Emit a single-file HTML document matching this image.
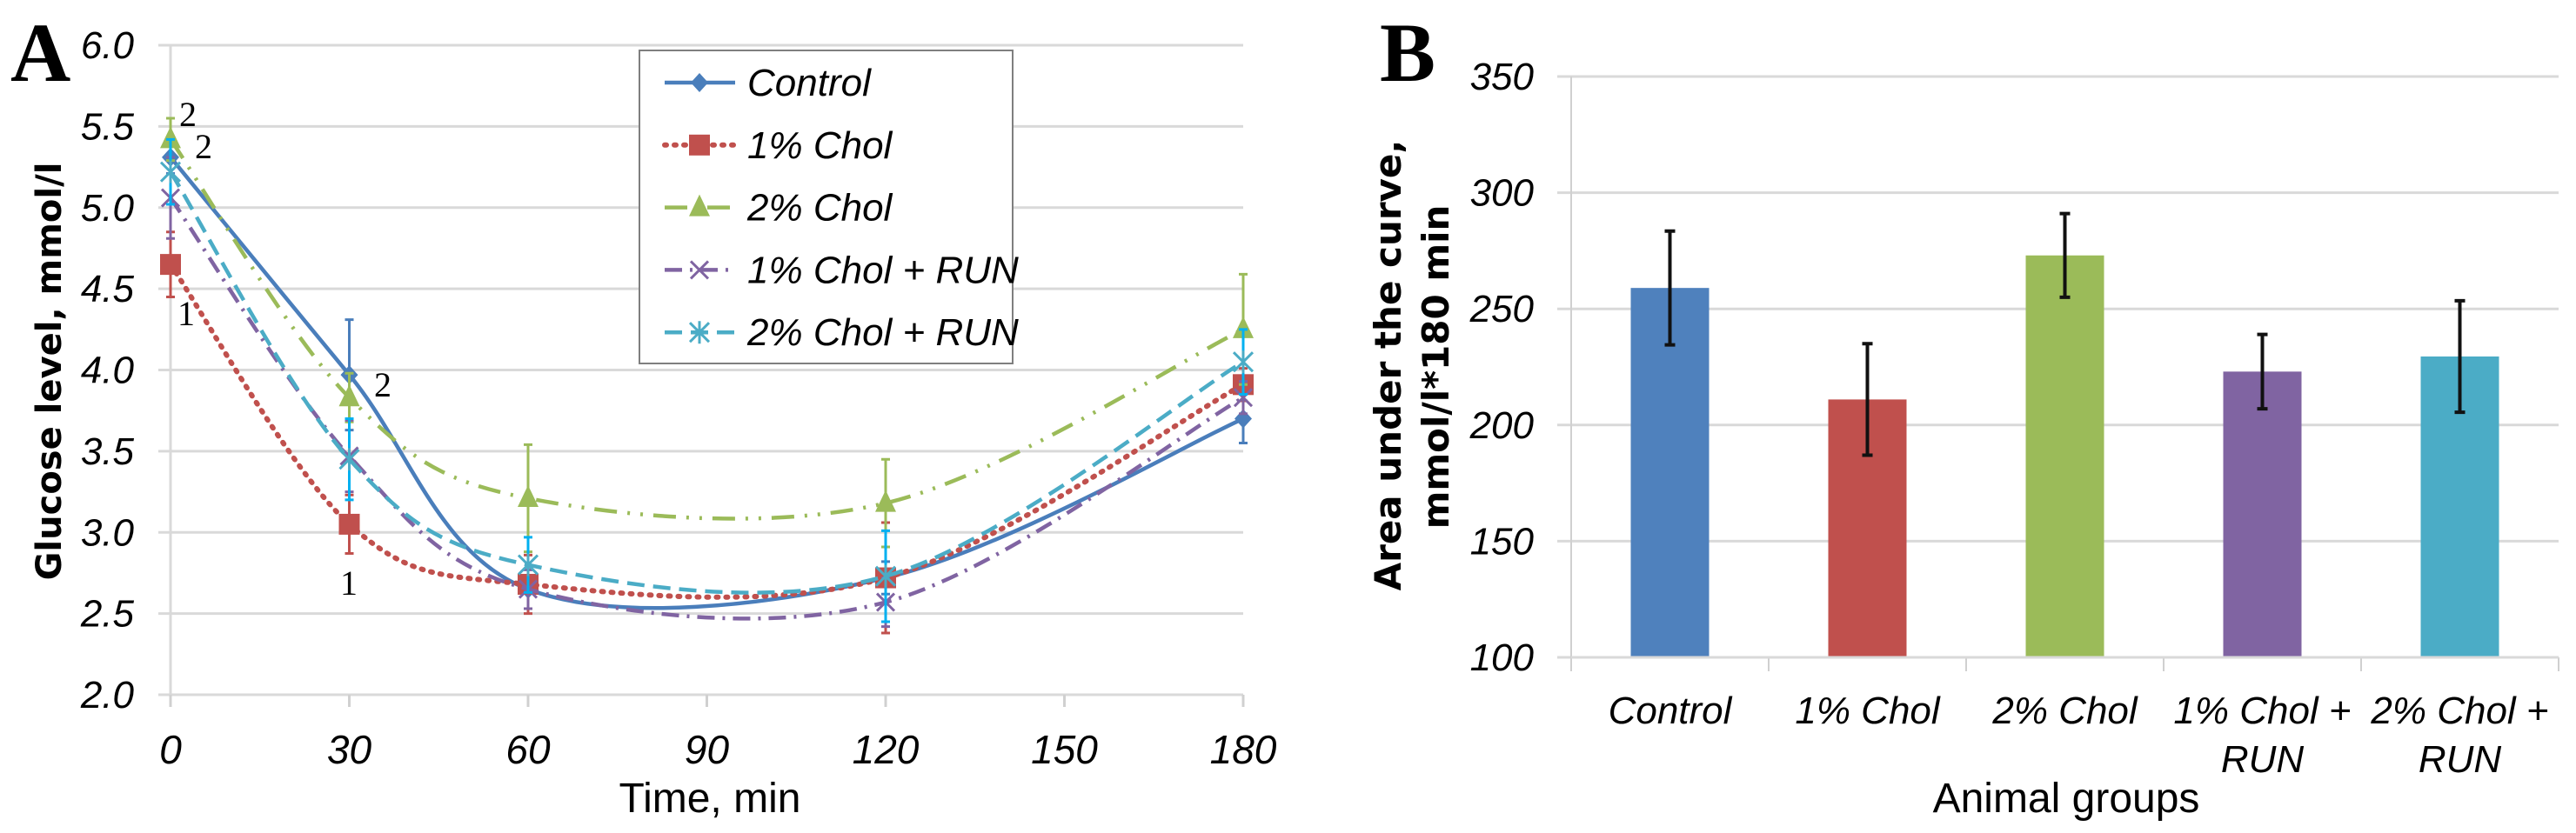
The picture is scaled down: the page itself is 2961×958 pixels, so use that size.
<!DOCTYPE html>
<html><head><meta charset="utf-8"><style>
html,body{margin:0;padding:0;background:#fff;}
svg{display:block;}
text{font-family:"Liberation Sans Narrow","Liberation Sans",sans-serif;}
text.serif{font-family:"Liberation Serif",serif;}
text.dv{font-family:"DejaVu Sans","Liberation Sans",sans-serif;}
text.ls{font-family:"Liberation Sans",sans-serif;}
</style></head><body>
<svg id="s" width="2961" height="958" viewBox="0 0 2961 958" xmlns="http://www.w3.org/2000/svg">
<g id="ga"></g>
<g id="gb"></g>
</svg>
<script>
// ---- Chart A data ----
const times = [0, 30, 60, 120, 180];
const xTicksA = [0, 30, 60, 90, 120, 150, 180];
const yTicksA = [2.0, 2.5, 3.0, 3.5, 4.0, 4.5, 5.0, 5.5, 6.0];
const seriesNames = ["Control", "1% Chol", "2% Chol", "1% Chol + RUN", "2% Chol + RUN"];
const controlVals = [5.31, 3.97, 2.65, 2.72, 3.70];
const controlErr = [0.1, 0.34, 0.12, 0.1, 0.15];
const chol1Vals = [4.65, 3.05, 2.68, 2.72, 3.91];
const chol1Err = [0.2, 0.18, 0.18, 0.34, 0.1];
const chol2Vals = [5.42, 3.83, 3.21, 3.18, 4.25];
const chol2Err = [0.13, 0.15, 0.33, 0.27, 0.34];
const chol1RunVals = [5.06, 3.47, 2.65, 2.57, 3.83];
const chol1RunErr = [0.25, 0.22, 0.12, 0.15, 0.1];
const chol2RunVals = [5.22, 3.45, 2.80, 2.73, 4.05];
const chol2RunErr = [0.2, 0.25, 0.17, 0.28, 0.2];
// ---- Chart B data ----
const groups = [["Control"], ["1% Chol"], ["2% Chol"], ["1% Chol +", "RUN"], ["2% Chol +", "RUN"]];
const aucVals = [259, 211, 273, 223, 229.5];
const aucErr = [24.5, 24, 18, 16, 24];
const yTicksB = [100, 150, 200, 250, 300, 350];

const NS = "http://www.w3.org/2000/svg";
function mk(parent, tag, attrs, txt){
  const e = document.createElementNS(NS, tag);
  for (const k in attrs) e.setAttribute(k, attrs[k]);
  if (txt !== undefined) e.textContent = txt;
  parent.appendChild(e);
  return e;
}
const ga = document.getElementById('ga');
const gb = document.getElementById('gb');

const xA = t => 196 + (t - 0) * (1429 - 196) / 180;
const yA = v => 799 - (v - 2) * (799 - 52) / 4;

yTicksA.forEach(v => {
  const l = mk(ga, 'line', {x1:182, x2:1429, y1:yA(v), y2:yA(v), stroke:'#d9d9d9', 'stroke-width':3});
  
  
  const t = mk(ga, 'text', {x:154, y:yA(v)+15, 'text-anchor':'end', 'font-size':44, 'font-style':'italic'}, v.toFixed(1));
  
  
});
let ax = mk(ga, 'line', {x1:196, x2:196, y1:52, y2:812, stroke:'#d9d9d9', 'stroke-width':3});


xTicksA.forEach(t => {
  const l = mk(ga, 'line', {x1:xA(t), x2:xA(t), y1:799, y2:813, stroke:'#d0d0d0', 'stroke-width':3});
  
  
  const tx = mk(ga, 'text', {x:xA(t), y:878, 'text-anchor':'middle', 'font-size':46, 'font-style':'italic'}, String(t));
  
  
});

function smoothPath(xs, ys){
  let d = `M${xs[0]},${ys[0]}`;
  const n = xs.length;
  for (let i = 0; i < n-1; i++){
    const x0 = xs[Math.max(i-1,0)], y0 = ys[Math.max(i-1,0)];
    const x1 = xs[i], y1 = ys[i], x2 = xs[i+1], y2 = ys[i+1];
    const x3 = xs[Math.min(i+2,n-1)], y3 = ys[Math.min(i+2,n-1)];
    const c1x = x1 + (x2-x0)/6, c1y = y1 + (y2-y0)/6;
    const c2x = x2 - (x3-x1)/6, c2y = y2 - (y3-y1)/6;
    d += ` C${c1x},${c1y} ${c2x},${c2y} ${x2},${y2}`;
  }
  return d;
}
const seriesA = [
  {vals:controlVals, err:controlErr, color:'#4a7ebb', dash:'', marker:'diamond', name:'series-control'},
  {vals:chol1Vals, err:chol1Err, color:'#c0504d', dash:'2 9', marker:'square', name:'series-1pct-chol'},
  {vals:chol2Vals, err:chol2Err, color:'#9bbb59', dash:'26 12 3 12 3 12', marker:'triangle', name:'series-2pct-chol'},
  {vals:chol1RunVals, err:chol1RunErr, color:'#8064a2', dash:'20 9 3 9', marker:'x', name:'series-1pct-chol-run'},
  {vals:chol2RunVals, err:chol2RunErr, color:'#4bacc6', dash:'20 10', marker:'star', name:'series-2pct-chol-run'}
];
const errColors = ['#4a7ebb','#c0504d','#9bbb59','#8064a2','#00b0f0'];
function drawMarker(g, type, x, y, color){
  let m;
  if (type==='diamond') m = mk(g,'polygon',{points:`${x},${y-11} ${x+10},${y} ${x},${y+11} ${x-10},${y}`, fill:color});
  else if (type==='square') m = mk(g,'rect',{x:x-12,y:y-12,width:24,height:24,fill:color});
  else if (type==='triangle') m = mk(g,'polygon',{points:`${x},${y-15} ${x+12},${y+10} ${x-12},${y+10}`, fill:color});
  else if (type==='x') m = mk(g,'path',{d:`M${x-10},${y-10}L${x+10},${y+10}M${x+10},${y-10}L${x-10},${y+10}`, stroke:color,'stroke-width':3});
  else m = mk(g,'path',{d:`M${x-11},${y-11}L${x+11},${y+11}M${x+11},${y-11}L${x-11},${y+11}M${x},${y-13}L${x},${y+13}`, stroke:color,'stroke-width':3});
  
  
  return m;
}
seriesA.forEach((s, si) => {
  const g = mk(ga, 'g', {});
  
  
  const xs = times.map(xA), ys = s.vals.map(yA);
  times.forEach((t, i) => {
    const hi = yA(s.vals[i] + s.err[i]), lo = yA(s.vals[i] - s.err[i]);
    const e = mk(g, 'path', {d:`M${xA(t)},${hi}L${xA(t)},${lo}M${xA(t)-5},${hi}L${xA(t)+5},${hi}M${xA(t)-5},${lo}L${xA(t)+5},${lo}`, stroke:errColors[si], 'stroke-width':3, fill:'none'});
    
    
  });
  const p = mk(g, 'path', {d:smoothPath(xs, ys), fill:'none', stroke:s.color, 'stroke-width':s.dash==='2 9'?6:4.5, 'stroke-dasharray':s.dash, 'stroke-linecap':s.dash==='2 9'?'round':'butt'});
  
  
  times.forEach((t, i) => drawMarker(g, s.marker, xs[i], ys[i], s.color));
});
[['2',206,145],['2',224,182],['1',204,374],['2',430,456],['1',391,684]].forEach(a => {
  const t = mk(ga, 'text', {x:a[1], y:a[2], 'font-size':40, 'class':'serif'}, a[0]);
  
  
});
const lg = mk(ga, 'g', {});


const lb = mk(lg, 'rect', {x:735, y:58, width:429, height:360, fill:'#fff', stroke:'#7f7f7f', 'stroke-width':2});


seriesA.forEach((s, i) => {
  const y = 95 + i * 71.8;
  const e = mk(lg, 'g', {});
  
  
  mk(e, 'line', {x1:764, x2:845, y1:y, y2:y, stroke:s.color, 'stroke-width':s.dash==='2 9'?6:4.5, 'stroke-dasharray':s.dash==='26 12 3 12 3 12'?'26 10 3 10':s.dash, 'stroke-linecap':s.dash==='2 9'?'round':'butt'});
  drawMarker(e, s.marker, 804, y, s.color);
  mk(e, 'text', {x:859, y:y+15, 'font-size':44, 'font-style':'italic'}, seriesNames[i]);
});
let t;
t = mk(ga, 'text', {x:70, y:427, transform:'rotate(-90 70 427)', 'text-anchor':'middle', 'font-size':40, 'font-weight':'bold', 'class':'dv'}, 'Glucose level, mmol/l');


t = mk(ga, 'text', {x:816, y:934, 'text-anchor':'middle', 'font-size':48}, 'Time, min');


t = mk(ga, 'text', {x:12, y:93, 'font-size':96, 'font-weight':'bold', 'class':'serif'}, 'A');



// ---- Chart B ----
const xB0 = 1806, bandB = 227;
const xB = i => xB0 + bandB * (i + 0.5);
const yB = v => 756 - (v - 100) * (756 - 88) / 250;
yTicksB.forEach(v => {
  const l = mk(gb, 'line', {x1:1790, x2:2941, y1:yB(v), y2:yB(v), stroke:'#d9d9d9', 'stroke-width':3});
  
  
  const tx = mk(gb, 'text', {x:1763, y:yB(v)+15, 'text-anchor':'end', 'font-size':44, 'font-style':'italic'}, String(v));
  
  
});
ax = mk(gb, 'line', {x1:1806, x2:1806, y1:88, y2:772, stroke:'#d0d0d0', 'stroke-width':2});


for (let i = 0; i <= groups.length; i++){
  const l = mk(gb, 'line', {x1:xB0+bandB*i, x2:xB0+bandB*i, y1:756, y2:772, stroke:'#d0d0d0', 'stroke-width':2});
  
  
}
const barColors = ['#4f81bd','#c0504d','#9bbb59','#8064a2','#4bacc6'];
aucVals.forEach((v, i) => {
  const r = mk(gb, 'rect', {x:xB(i)-45, y:yB(v), width:90, height:yB(100)-yB(v), fill:barColors[i]});
  
  
  const hi = yB(v + aucErr[i]), lo = yB(v - aucErr[i]);
  const e = mk(gb, 'path', {d:`M${xB(i)},${hi}L${xB(i)},${lo}M${xB(i)-6},${hi}L${xB(i)+6},${hi}M${xB(i)-6},${lo}L${xB(i)+6},${lo}`, stroke:'#111', 'stroke-width':4, fill:'none'});
  
  
  groups[i].forEach((line, j) => {
    const tx = mk(gb, 'text', {x:xB(i), y:832 + j*56, 'text-anchor':'middle', 'font-size':44, 'font-style':'italic'}, line);
    
    
  });
});
const yl = mk(gb, 'line', {x1:1806, x2:2941, y1:756, y2:756, stroke:'#d9d9d9', 'stroke-width':3});


t = mk(gb, 'text', {x:1610, y:420, transform:'rotate(-90 1610 420)', 'text-anchor':'middle', 'font-size':42, 'font-weight':'bold', 'class':'dv'}, 'Area under the curve,');


t = mk(gb, 'text', {x:1665, y:422, transform:'rotate(-90 1665 422)', 'text-anchor':'middle', 'font-size':42, 'font-weight':'bold', 'class':'dv'}, 'mmol/l*180 min');


t = mk(gb, 'text', {x:2375, y:934, 'text-anchor':'middle', 'font-size':48}, 'Animal groups');


t = mk(gb, 'text', {x:1586, y:93, 'font-size':96, 'font-weight':'bold', 'class':'serif'}, 'B');


</script>
</body></html>
